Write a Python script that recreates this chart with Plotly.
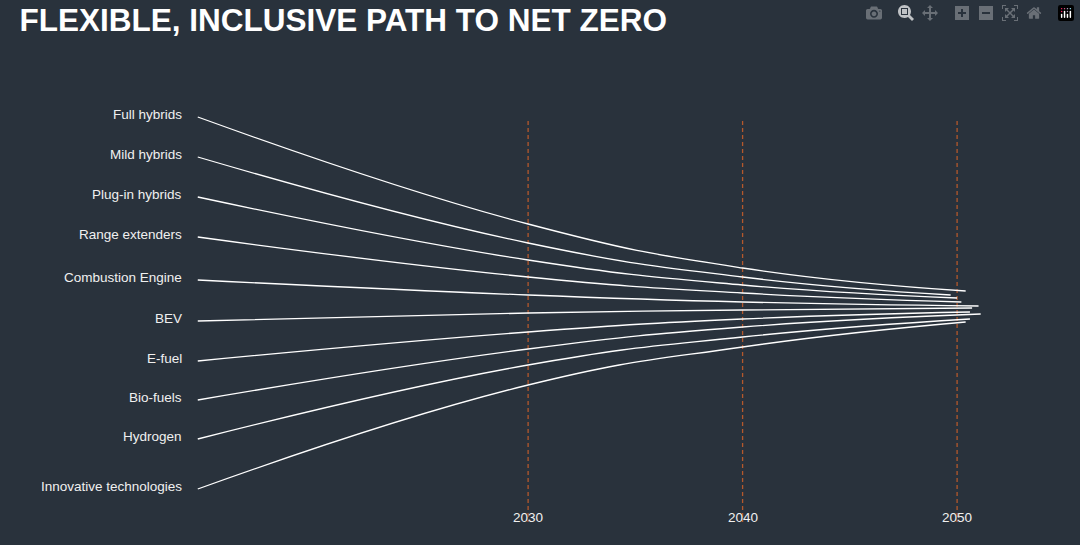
import plotly.graph_objects as go

labels = ["Full hybrids", "Mild hybrids", "Plug-in hybrids", "Range extenders",
          "Combustion Engine", "BEV", "E-fuel", "Bio-fuels", "Hydrogen",
          "Innovative technologies"]
start_year = 2014.6
start_level = [117, 157, 197, 237, 280, 321, 361, 400, 439, 489]
level_2030 = [224, 243, 260, 277, 295, 313, 332, 349, 365, 385]
level_2040 = [268, 277, 285, 293, 302, 310, 319, 327, 337, 347]
end_year = [2050.4, 2049.7, 2050.0, 2050.2, 2051.0, 2050.7, 2050.6, 2051.1, 2050.6, 2050.4]
end_level = [291, 295, 298, 302, 306, 308, 312, 314, 319, 322]
milestones = [2030, 2040, 2050]

bg = "#29323c"
fig = go.Figure()

for m in milestones:
    fig.add_trace(go.Scatter(x=[m, m], y=[121, 522], mode="lines",
                             line=dict(color="#b4582c", width=1.3, dash="4px,3px"),
                             hoverinfo="skip", showlegend=False))

for i, name in enumerate(labels):
    fig.add_trace(go.Scatter(
        x=[start_year, 2030, 2040, end_year[i]],
        y=[start_level[i], level_2030[i], level_2040[i], end_level[i]],
        mode="lines", line=dict(color="white", width=1.3, shape="spline", smoothing=1.3),
        name=name, showlegend=False))
    fig.add_annotation(x=start_year, y=start_level[i] - 3, text=name, showarrow=False,
                       xanchor="right", xshift=-14, font=dict(color="#f0f0f0", size=13.5))

for m in milestones:
    fig.add_annotation(x=m, y=517, text=str(m), showarrow=False,
                       font=dict(color="#f0f0f0", size=13.5))

fig.update_layout(
    width=1080, height=545,
    paper_bgcolor=bg, plot_bgcolor=bg,
    margin=dict(l=0, r=0, t=0, b=0),
    font=dict(family="Liberation Sans, Arial, sans-serif"),
    title=dict(text="<b>FLEXIBLE, INCLUSIVE PATH TO NET ZERO</b>", x=0.018, y=0.963,
               xanchor="left", yanchor="middle",
               font=dict(color="white", size=31.5)),
    xaxis=dict(range=[2005.38, 2055.73], visible=False),
    yaxis=dict(range=[545, 0], visible=False),
)

fig.write_html("out.html", post_script="document.body.style.margin='0';")
